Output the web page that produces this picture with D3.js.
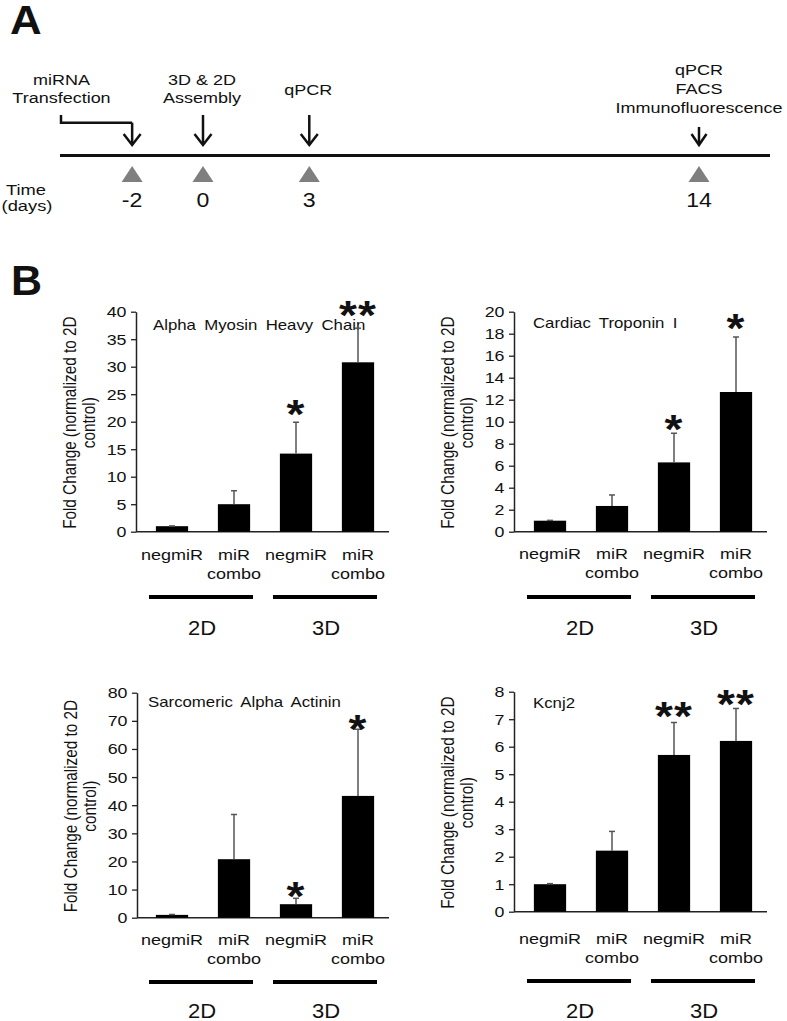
<!DOCTYPE html>
<html>
<head>
<meta charset="utf-8">
<script src="https://cdn.jsdelivr.net/npm/d3@7"></script>
<style>
  html, body { margin: 0; padding: 0; background: #fff; }
  svg { display: block; }
  text { font-family: "Liberation Sans", Arial, Helvetica, sans-serif; fill: #111; }
</style>
</head>
<body>
<svg id="chart" width="787" height="1021"></svg>
<script>
// ---------------- DATA ----------------
const days = [-2, 0, 3, 14];
const eventLabels = [["miRNA", "Transfection"], ["3D & 2D", "Assembly"], ["qPCR"], ["qPCR", "FACS", "Immunofluorescence"]];
const timeLabel = ["Time", "(days)"];

const catLine1 = ["negmiR", "miR", "negmiR", "miR"];
const catLine2 = ["", "combo", "", "combo"];
const groups = ["2D", "3D"];
const genes = ["Alpha Myosin Heavy Chain", "Cardiac Troponin I", "Sarcomeric Alpha Actinin", "Kcnj2"];
const yLabel = ["Fold Change (normalized to 2D", "control)"];

const amhcMean = [1.0, 5.0, 14.2, 30.8];
const amhcErr  = [0.05, 2.45, 5.7, 6.2];
const ctniMean = [1.0, 2.34, 6.3, 12.7];
const ctniErr  = [0.03, 1.0, 2.65, 5.0];
const saaMean  = [1.0, 20.8, 4.8, 43.3];
const saaErr   = [0.15, 15.9, 2.1, 23.7];
const kcnjMean = [1.0, 2.22, 5.7, 6.21];
const kcnjErr  = [0.02, 0.7, 1.18, 1.18];

const amhcStars = ["", "", "*", "**"];
const ctniStars = ["", "", "*", "*"];
const saaStars  = ["", "", "*", "*"];
const kcnjStars = ["", "", "**", "**"];

const yMaxes = [40, 20, 80, 8];
const yTickSteps = [5, 2, 10, 1];

// ---------------- HELPERS ----------------
const svg = d3.select("#chart");
const SX = 1.2; // horizontal stretch of the original figure

function stext(parent, x, y, str, size, opts = {}) {
  const g = parent.append("g")
    .attr("transform", `translate(${x},${y}) scale(${opts.sx ?? SX},1)`);
  const t = g.append("text")
    .attr("text-anchor", opts.anchor || "middle")
    .style("font-size", size + "px")
    .style("font-weight", opts.weight || "normal")
    .text(str);
  if (opts.wordSpacing) t.style("word-spacing", opts.wordSpacing + "px");
  if (opts.letterSpacing) t.style("letter-spacing", opts.letterSpacing + "px");
  return t;
}

// ---------------- PANEL A: timeline ----------------
stext(svg, 10, 34, "A", 41, {anchor: "start", weight: "bold", sx: 1.07});

const xDay = d3.scaleLinear().domain([0, 14]).range([203, 699]);
const A = svg.append("g");

A.append("line").attr("x1", 60).attr("x2", 770).attr("y1", 155.5).attr("y2", 155.5)
  .attr("stroke", "#111").attr("stroke-width", 3);

// triangles
A.selectAll("path.tri").data(days).join("path").attr("class", "tri")
  .attr("d", d => {
    const x = xDay(d);
    return `M${x - 10.5},182 L${x},166 L${x + 10.5},182 Z`;
  })
  .attr("fill", "#7f7f7f");

// day numbers
days.forEach(d => stext(A, xDay(d), 207, (d < 0 ? "-" : "") + Math.abs(d), 21, {sx: 1.1}));

// Time (days)
stext(A, 26, 195, timeLabel[0], 15, {sx: 1.22});
stext(A, 27, 211, timeLabel[1], 15, {sx: 1.22});

// arrows
const arrowTops = [122.7, 115, 115, 127];
const arrowBottom = 145;
days.forEach((d, i) => {
  const x = xDay(d);
  const hw = i === 3 ? 7.5 : 8.5;
  A.append("path")
    .attr("d", `M${x},${arrowTops[i]} L${x},${arrowBottom - 1}`)
    .attr("stroke", "#111").attr("stroke-width", 2.5).attr("fill", "none");
  A.append("path")
    .attr("d", `M${x - hw},${arrowBottom - 11} L${x},${arrowBottom} L${x + hw},${arrowBottom - 11}`)
    .attr("stroke", "#111").attr("stroke-width", 2.5).attr("fill", "none");
});
// bent connector for transfection
A.append("path")
  .attr("d", `M61,115 L61,122.7 L${xDay(days[0])},122.7`)
  .attr("stroke", "#111").attr("stroke-width", 2.5).attr("fill", "none");

// event labels
const labelX = [61.5, 202, xDay(3) - 1, xDay(14)];
const labelYs = [[85, 103], [85, 103], [95], [75, 94, 113]];
eventLabels.forEach((lines, i) => {
  lines.forEach((s, j) => stext(A, labelX[i], labelYs[i][j], s, 15));
});

// ---------------- PANEL B: bar charts ----------------
stext(svg, 11, 295, "B", 43, {anchor: "start", weight: "bold", sx: 1.0});

const means = [amhcMean, ctniMean, saaMean, kcnjMean];
const errs = [amhcErr, ctniErr, saaErr, kcnjErr];
const stars = [amhcStars, ctniStars, saaStars, kcnjStars];

const panels = [
  {axisX: 136, y0: 531.7, yTop: 311.7, bandL: 141, bandR: 389, titleX: 153, titleY: 330, catY: [560, 579], lineY: 597, grpY: 635, starLift: [0, 0, 17, 22]},
  {axisX: 514, y0: 531.7, yTop: 311.7, bandL: 519, bandR: 767, titleX: 533, titleY: 328, catY: [559, 578], lineY: 597, grpY: 635, starLift: [0, 0, 13, 17]},
  {axisX: 137, y0: 917.7, yTop: 692.7, bandL: 141, bandR: 389, titleX: 148, titleY: 707, catY: [945, 964], lineY: 982, grpY: 1018, starLift: [0, 0, 11, 9]},
  {axisX: 514, y0: 911.7, yTop: 691.7, bandL: 519, bandR: 767, titleX: 533, titleY: 708, catY: [944, 963], lineY: 981, grpY: 1018, starLift: [0, 0, 15, 13]},
];

panels.forEach((p, k) => {
  const g = svg.append("g");
  const idx = d3.range(4);
  const x = d3.scaleBand().domain(idx).range([p.bandL, p.bandR]).paddingInner(0.48).paddingOuter(0.24);
  const y = d3.scaleLinear().domain([0, yMaxes[k]]).range([p.y0, p.yTop]);

  // y axis
  const ticks = d3.range(0, yMaxes[k] + 1e-9, yTickSteps[k]);
  const ax = g.append("g").attr("transform", `translate(${p.axisX},0)`)
    .call(d3.axisLeft(y).tickValues(ticks).tickSize(5).tickSizeOuter(0).tickPadding(3).tickFormat(d3.format("d")));
  ax.select(".domain").attr("stroke", "#222").attr("stroke-width", 1.5);
  ax.selectAll(".tick line").attr("stroke", "#222").attr("stroke-width", 1.3);
  ax.selectAll(".tick text")
    .attr("x", -8.3)
    .attr("transform", "scale(1.15,1)")
    .style("font-size", "15.5px")
    .style("font-family", '"Liberation Sans", Arial, sans-serif')
    .attr("fill", "#111");

  // x axis baseline
  g.append("line").attr("x1", p.axisX).attr("x2", p.bandR).attr("y1", p.y0).attr("y2", p.y0)
    .attr("stroke", "#222").attr("stroke-width", 1.5);

  // bars
  g.selectAll("rect.bar").data(means[k]).join("rect").attr("class", "bar")
    .attr("x", (d, i) => x(i))
    .attr("width", x.bandwidth())
    .attr("y", d => y(d))
    .attr("height", d => p.y0 - y(d))
    .attr("fill", "#000");

  // title
  stext(g, p.titleX, p.titleY, genes[k], 14, {anchor: "start", wordSpacing: 3});

  // error bars (upper only) and significance stars
  means[k].forEach((m, i) => {
    const cx = x(i) + x.bandwidth() / 2;
    const top = y(m + errs[k][i]);
    g.append("line").attr("x1", cx).attr("x2", cx).attr("y1", y(m)).attr("y2", top)
      .attr("stroke", "#555").attr("stroke-width", 1.5);
    g.append("line").attr("x1", cx - 3).attr("x2", cx + 3).attr("y1", top).attr("y2", top)
      .attr("stroke", "#555").attr("stroke-width", 1.5);
    if (stars[k][i]) {
      const fs = 40;
      stext(g, cx, top - p.starLift[i] + 0.56 * fs, stars[k][i], fs, {weight: "bold", sx: 1.15, letterSpacing: 1});
    }
  });

  // y label (rotated, two lines)
  const yl = g.append("g")
    .attr("transform", `translate(${p.axisX - 66},${(p.y0 + p.yTop) / 2 + 1}) rotate(-90) scale(1,${SX})`);
  yl.append("text").attr("text-anchor", "middle").attr("dy", "0.35em")
    .style("font-size", "15.3px").text(yLabel[0]);
  yl.append("text").attr("text-anchor", "middle").attr("y", 15.4).attr("dy", "0.35em")
    .style("font-size", "15.3px").text(yLabel[1]);

  // category labels
  idx.forEach(i => {
    const cx = x(i) + x.bandwidth() / 2;
    stext(g, cx, p.catY[0], catLine1[i], 15);
    if (catLine2[i]) stext(g, cx, p.catY[1], catLine2[i], 15);
  });

  // group lines and labels
  groups.forEach((gr, j) => {
    const c1 = x(2 * j) + x.bandwidth() / 2;
    const c2 = x(2 * j + 1) + x.bandwidth() / 2;
    const mid = (c1 + c2) / 2;
    g.append("line").attr("x1", mid - 54).attr("x2", mid + 50).attr("y1", p.lineY).attr("y2", p.lineY)
      .attr("stroke", "#000").attr("stroke-width", 4);
    stext(g, mid - 1, p.grpY, gr, 20, {sx: 1.1});
  });
});
</script>
</body>
</html>
